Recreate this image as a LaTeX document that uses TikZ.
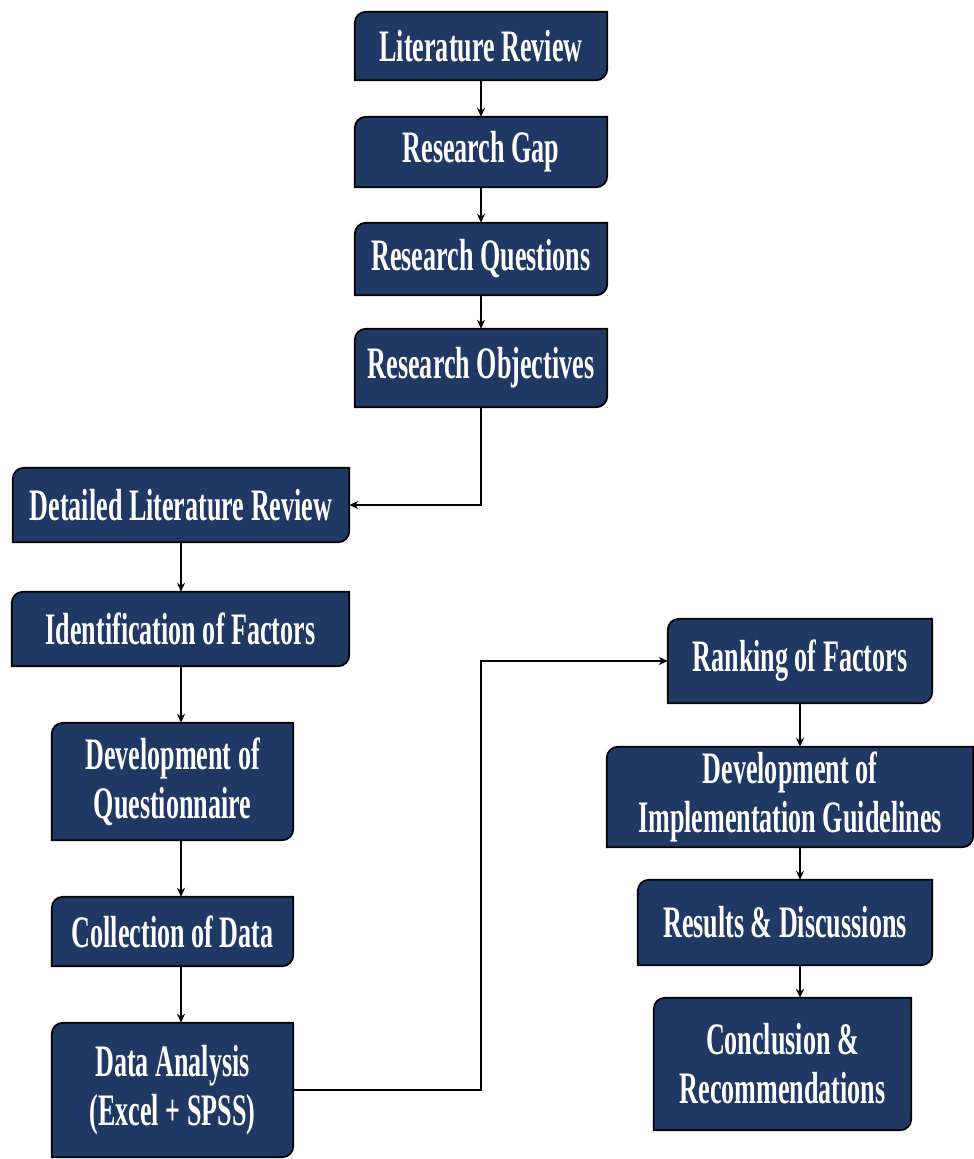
\documentclass[tikz,border=0pt]{standalone}
\usepackage{fontspec}
\newfontfamily\boxfont{Liberation Serif}[FakeStretch=0.58]
\usetikzlibrary{calc,arrows.meta}
\pgfdeclarelayer{bg}
\pgfsetlayers{bg,main}
\definecolor{navy}{RGB}{31,56,100}
\tikzset{
  stepnode/.style={inner sep=0pt, text=white, align=center,
    font=\boxfont\bfseries\fontsize{45}{49}\selectfont},
  boxshape/.style={fill=navy, draw=black, line width=1.8pt},
  boxshadow/.style={fill=black!30, draw=none},
  arr/.style={draw=black, line width=2.4pt, -{Stealth[length=9pt,width=8pt]}},
}
\newcommand\boxoutline[2]{%
  \path[#2] (#1.south west) -- ($(#1.north west)+(0,-11)$)
    arc[start angle=180,end angle=90,radius=11] -- (#1.north east)
    -- ($(#1.south east)+(0,11)$)
    arc[start angle=0,end angle=-90,radius=11] -- cycle;}
\begin{document}
\begin{tikzpicture}[x=1pt,y=1pt]
\useasboundingbox (0,0) rectangle (974,-1159);
% top column
\node[stepnode, minimum width=252pt, minimum height=68pt] (lr) at (481,-46) {Literature Review};
\node[stepnode, minimum width=252pt, minimum height=70pt] (rg) at (481,-152) {Research Gap};
\node[stepnode, minimum width=252pt, minimum height=72pt] (rq) at (481,-259) {Research Questions};
\node[stepnode, minimum width=252pt, minimum height=78pt] (ro) at (481,-368) {Research Objectives};
% left column
\node[stepnode, minimum width=336pt, minimum height=74pt] (dlr) at (181,-505) {Detailed Literature Review};
\node[stepnode, minimum width=337pt, minimum height=74pt] (idf) at (180.5,-629) {Identification of Factors};
\node[stepnode, minimum width=241pt, minimum height=117pt] (devq) at (172.5,-781.5) {Development of\\Questionnaire};
\node[stepnode, minimum width=241pt, minimum height=69pt] (cod) at (172.5,-931.5) {Collection of Data};
\node[stepnode, minimum width=241pt, minimum height=134pt] (da) at (172.5,-1090) {Data Analysis\\(Excel + SPSS)};
% right column
\node[stepnode, minimum width=264pt, minimum height=84pt] (rk) at (800,-661) {Ranking of Factors};
\node[stepnode, minimum width=366pt, minimum height=100pt] (dig) at (790,-797) {Development of\\Implementation Guidelines};
\node[stepnode, minimum width=294pt, minimum height=85pt] (rd) at (785,-922.5) {Results \& Discussions};
\node[stepnode, minimum width=257pt, minimum height=132pt] (cr) at (782.5,-1064) {Conclusion \&\\Recommendations};
\begin{pgfonlayer}{bg}
  \foreach \n in {lr,rg,rq,ro,dlr,idf,devq,cod,da,rk,dig,rd,cr}{
    \begin{scope}[shift={(1.5,-2.5)}]\boxoutline{\n}{boxshadow}\end{scope}
    \boxoutline{\n}{boxshape}
  }
\end{pgfonlayer}
\coordinate (colL) at (181,0);
\coordinate (colR) at (800,0);
\coordinate (bend) at (481,-900);
\draw[arr] (lr) -- (rg);
\draw[arr] (rg) -- (rq);
\draw[arr] (rq) -- (ro);
\draw[arr] (ro.south) |- (dlr.east);
\draw[arr] (dlr.south -| colL) -- (idf.north -| colL);
\draw[arr] (idf.south -| colL) -- (devq.north -| colL);
\draw[arr] (devq.south -| colL) -- (cod.north -| colL);
\draw[arr] (cod.south -| colL) -- (da.north -| colL);
\draw[arr] (da.east) -| (bend) |- (rk.west);
\draw[arr] (rk.south -| colR) -- (dig.north -| colR);
\draw[arr] (dig.south -| colR) -- (rd.north -| colR);
\draw[arr] (rd.south -| colR) -- (cr.north -| colR);
\end{tikzpicture}
\end{document}
